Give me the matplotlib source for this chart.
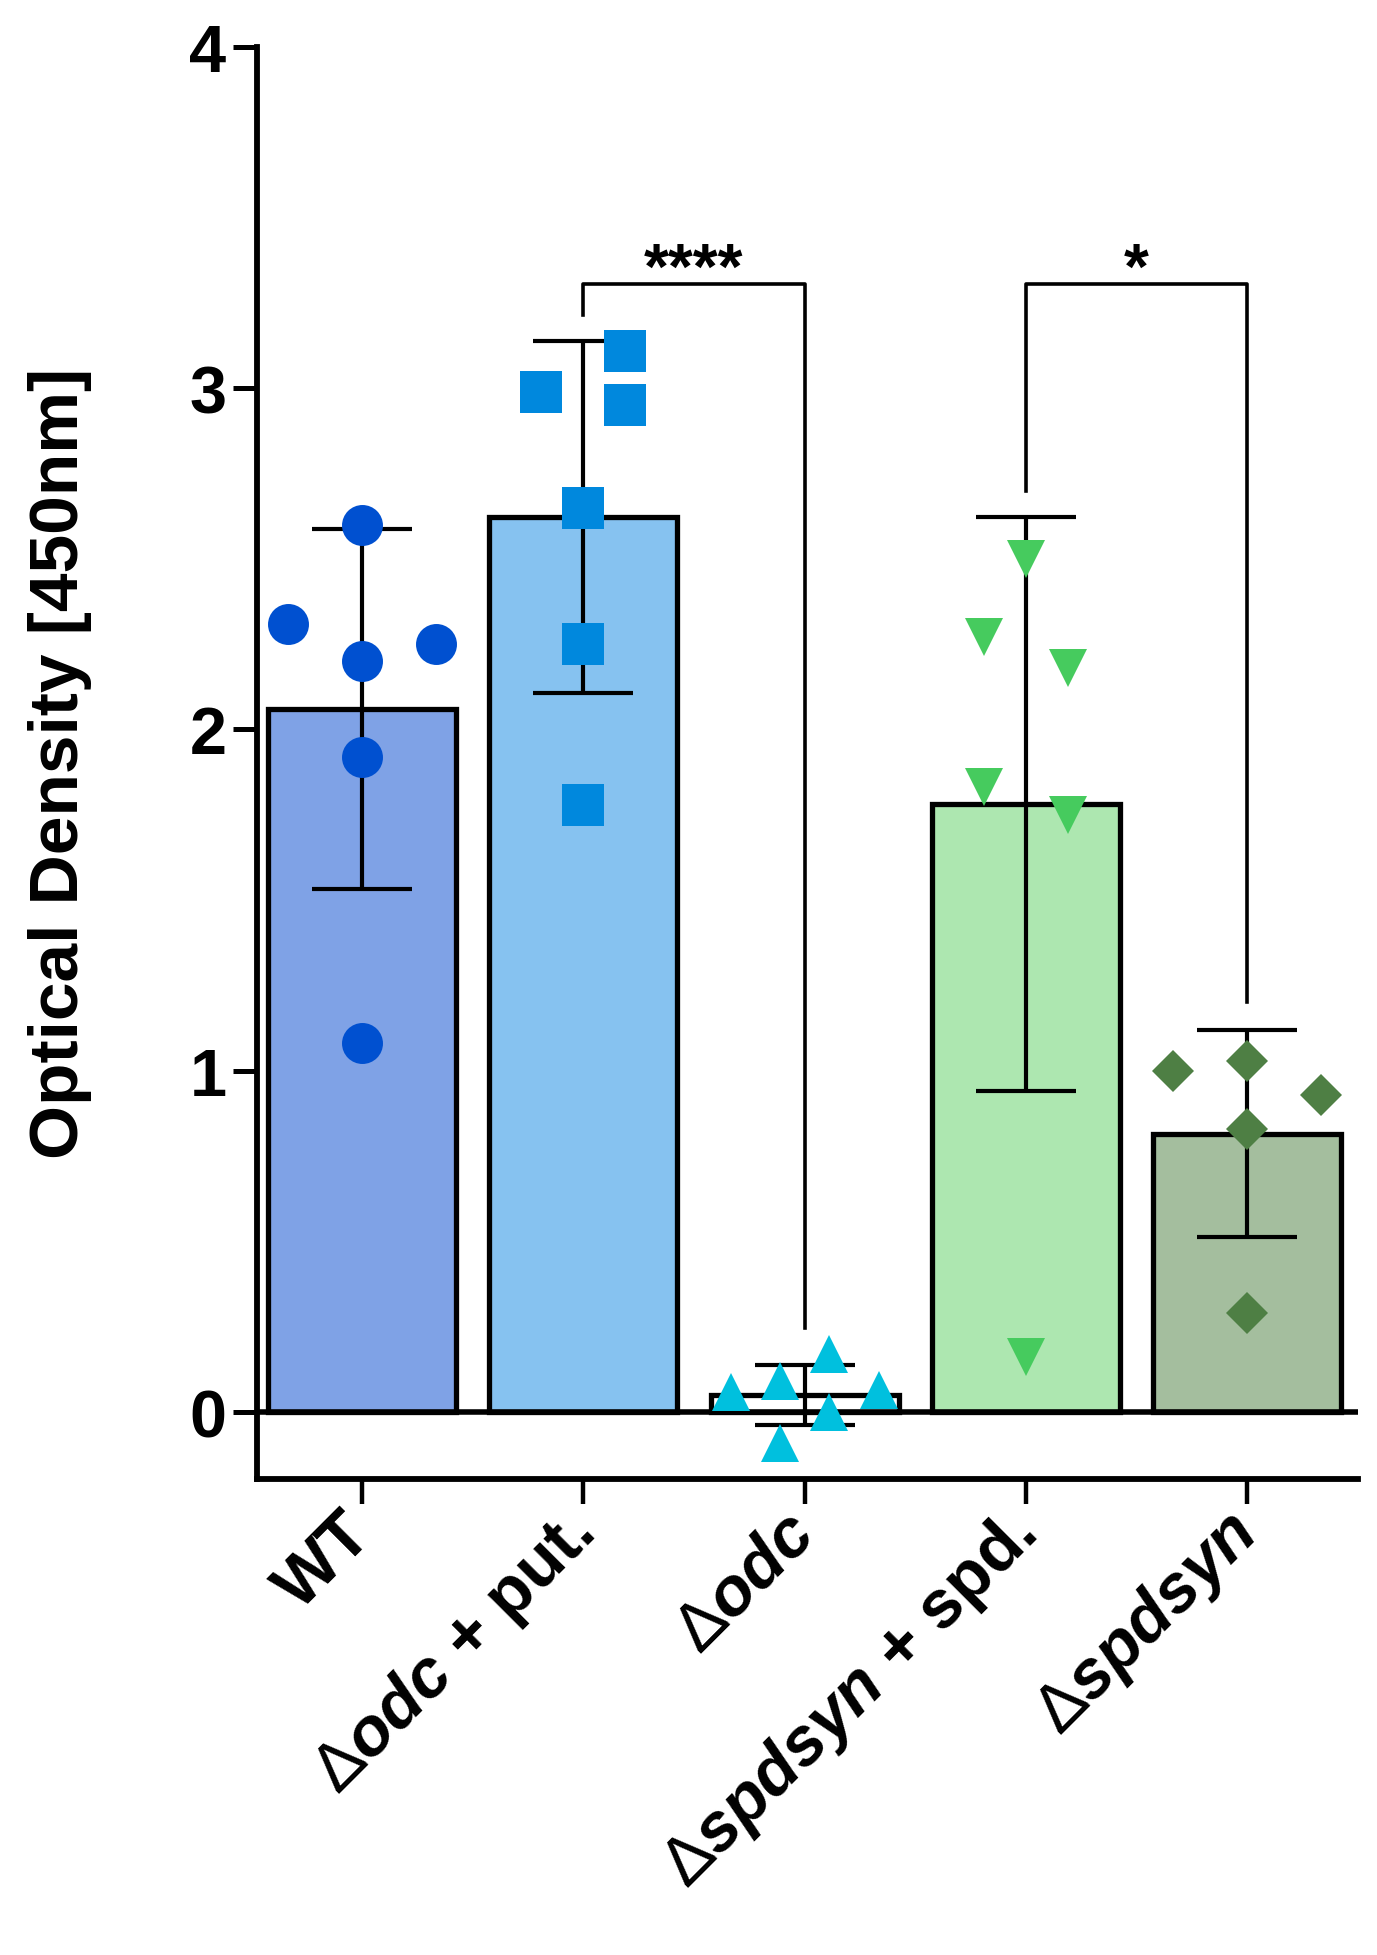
import numpy as np
import matplotlib
matplotlib.use('Agg')
from matplotlib import pyplot as plt

plt.rcParams['font.family'] = ['Liberation Sans', 'DejaVu Sans']
plt.rcParams['mathtext.fontset'] = 'custom'
plt.rcParams['mathtext.rm'] = 'Liberation Sans'
plt.rcParams['mathtext.it'] = 'Liberation Sans:italic:bold'
plt.rcParams['mathtext.bf'] = 'Liberation Sans:bold'

# groups and individual replicate values (OD 450nm)
groups = ['WT', r'$\Delta\mathit{odc}$ + put.', r'$\Delta\mathit{odc}$',
          r'$\Delta\mathit{spdsyn}$ + spd.', r'$\Delta\mathit{spdsyn}$']
wt = [2.60, 2.31, 2.25, 2.20, 1.92, 1.08]
odc_put = [3.11, 2.99, 2.95, 2.65, 2.25, 1.78]
odc = [0.06, 0.09, 0.17, 0.065, 0.0, -0.09]
spd_spd = [2.50, 2.27, 2.18, 1.83, 1.75, 0.16]
spdsyn = [1.00, 1.03, 0.93, 0.83, 0.29]
values = [wt, odc_put, odc, spd_spd, spdsyn]

# horizontal spread of the dots inside each bar (fraction of category spacing)
wt_dx = [0, -0.335, 0.335, 0, 0, 0]
odc_put_dx = [0.19, -0.19, 0.19, 0, 0, 0]
odc_dx = [-0.335, -0.11, 0.11, 0.335, 0.11, -0.11]
spd_spd_dx = [0, -0.19, 0.19, -0.19, 0.19, 0]
spdsyn_dx = [-0.335, 0, 0.335, 0, 0]
offsets = [wt_dx, odc_put_dx, odc_dx, spd_spd_dx, spdsyn_dx]

bar_colors = ['#7FA2E6', '#86C2F0', '#FFFFFF', '#ADE7B0', '#A4BE9E']
dot_colors = ['#0050D0', '#0088DD', '#00C0DE', '#46CB5E', '#4E7F44']
markers = ['o', 's', '^', 'v', 'D']
msizes = [29.5, 30, 28, 28, 21]

# significance brackets: (left group, right group, top, left leg end, right leg end, label)
brackets = [(1, 2, 3.305, 3.215, 0.245, '****'),
            (3, 4, 3.305, 2.70, 1.20, '*')]

means = [np.mean(v) for v in values]
sds = [np.std(v, ddof=1) for v in values]
x = np.arange(len(groups))

fig = plt.figure(figsize=(13.77, 19.56), dpi=100)
ax = fig.add_axes([0.1866, 0.2434, 0.7995, 0.7321])

ax.bar(x, means, width=0.85, color=bar_colors, edgecolor='black', linewidth=3.8, zorder=2)
ax.axhline(0, color='black', lw=4, zorder=2.5)
ax.errorbar(x, means, yerr=sds, fmt='none', ecolor='black', elinewidth=3,
            capsize=36, capthick=3, zorder=3)
for i in range(len(groups)):
    ax.plot(x[i] + np.array(offsets[i]), values[i], ls='none', marker=markers[i],
            ms=msizes[i], color=dot_colors[i], mew=0, zorder=4)

for g1, g2, top, l1, l2, lab in brackets:
    ax.plot([g1, g1, g2, g2], [l1, top, top, l2], color='black', lw=2.6, zorder=3)
    ax.text((g1 + g2) / 2, top - 0.012, lab, ha='center', va='baseline',
            fontsize=46, fontweight='bold')

ax.set_xlim(-0.475, 4.5)
ax.set_ylim(-0.196, 4)
ax.set_yticks([0, 1, 2, 3, 4])
ax.set_yticklabels(['0', '1', '2', '3', '4'], fontsize=48, fontweight='bold')
ax.set_xticks(x)
ax.set_xticklabels(groups, fontsize=49, fontweight='bold', rotation=45,
                   ha='right', va='center', rotation_mode='anchor')
ax.tick_params(axis='y', length=17, width=3.6, pad=5)
ax.tick_params(axis='x', length=18, width=3.2, pad=14)
for s in ['top', 'right']:
    ax.spines[s].set_visible(False)
for s in ['left', 'bottom']:
    ax.spines[s].set_linewidth(4.2)

ax.set_ylabel('Optical Density [450nm]', fontsize=50, fontweight='bold')
ax.yaxis.set_label_coords(-0.15, 0.5)

fig.savefig('out.png', dpi=100, facecolor='white')
